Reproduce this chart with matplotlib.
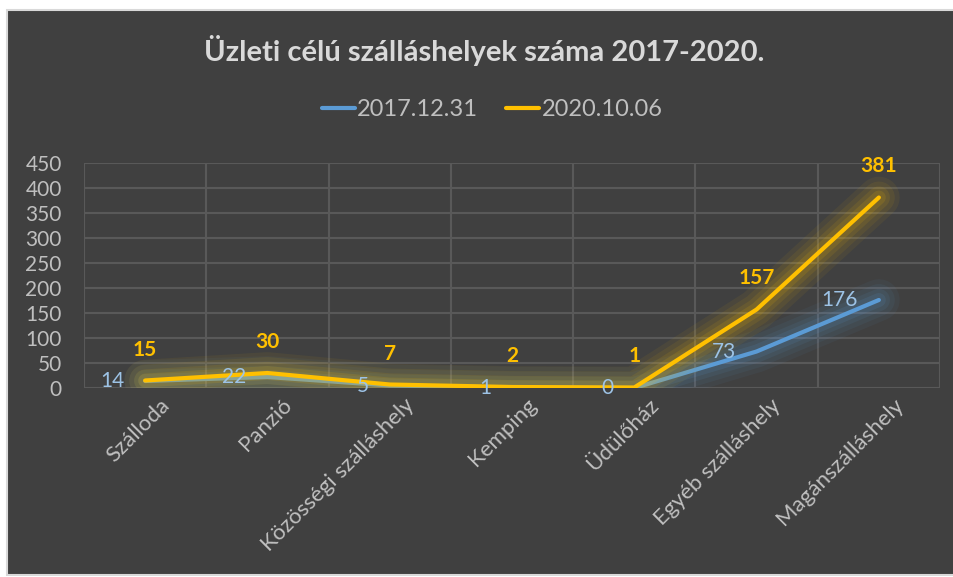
import matplotlib.pyplot as plt
from matplotlib import patheffects as pe
from matplotlib.lines import Line2D
from matplotlib.patches import Rectangle
from matplotlib.transforms import ScaledTranslation

categories = ["Szálloda", "Panzió", "Közösségi szálláshely", "Kemping",
              "Üdülőház", "Egyéb szálláshely", "Magánszálláshely"]
values_2017 = [14, 22, 5, 1, 0, 73, 176]
values_2020 = [15, 30, 7, 2, 1, 157, 381]
series_names = ["2017.12.31", "2020.10.06"]
y_ticks = [0, 50, 100, 150, 200, 250, 300, 350, 400, 450]

BG = "#404040"
GRID = "#595959"
TEXT = "#BFBFBF"
BLUE = "#5B9BD5"
BLUE_LABEL = "#9DC3E6"
YELLOW = "#FFC000"

plt.rcParams["font.family"] = ["Lato", "DejaVu Sans"]


def glow(color):
    strokes = [pe.Stroke(linewidth=w, foreground=color, alpha=a)
               for w, a in [(30, 0.06), (23, 0.07), (16, 0.09), (10, 0.12)]]
    return strokes + [pe.Normal()]


fig = plt.figure(figsize=(9.54, 5.77), dpi=100, facecolor="white")
fig.patches.append(Rectangle((7 / 954, 2 / 577), 1.0, 1 - 12 / 577,
                             transform=fig.transFigure, facecolor=BG,
                             edgecolor="#D9D9D9", linewidth=1.5, zorder=-5))

ax = fig.add_axes([84 / 954, 1 - 388 / 577, (940 - 84) / 954, (388 - 163) / 577])
ax.patch.set_alpha(0)

x = list(range(len(categories)))
ax.plot(x, values_2017, color=BLUE, linewidth=3, solid_capstyle="round",
        solid_joinstyle="round", path_effects=glow(BLUE), zorder=3)
ax.plot(x, values_2020, color=YELLOW, linewidth=3, solid_capstyle="round",
        solid_joinstyle="round", path_effects=glow(YELLOW), zorder=4)

for xi, v in zip(x, values_2017):
    ax.annotate(str(v), (xi, v), xytext=(-15, 0), textcoords="offset points",
                ha="right", va="center", color=BLUE_LABEL, fontsize=15, zorder=5)
for xi, v in zip(x, values_2020):
    ax.annotate(str(v), (xi, v), xytext=(0, 18), textcoords="offset points",
                ha="center", va="baseline", color=YELLOW, fontsize=15,
                fontweight="bold", zorder=5)

ax.set_xlim(-0.5, len(categories) - 0.5)
ax.set_ylim(0, 450)
ax.set_yticks(y_ticks)
ax.set_xticks(x)
ax.set_xticks([i - 0.5 for i in range(len(categories) + 1)], minor=True)
ax.set_xticklabels(categories, rotation=45, ha="right", rotation_mode="anchor")
ax.tick_params(axis="both", which="both", length=0, colors=TEXT)
ax.tick_params(axis="y", pad=16, labelsize=15)
ax.tick_params(axis="x", pad=5, labelsize=16)
for lbl in ax.get_xticklabels():
    lbl.set_transform(lbl.get_transform() + ScaledTranslation(0.14, 0, fig.dpi_scale_trans))

ax.grid(axis="y", which="major", color=GRID, linewidth=1.5, zorder=1)
ax.grid(axis="x", which="minor", color=GRID, linewidth=1.5, zorder=1)
ax.set_axisbelow(True)
for spine in ax.spines.values():
    spine.set_visible(False)

fig.text(0.508, 1 - 50 / 577, "Üzleti célú szálláshelyek száma 2017-2020.",
         ha="center", va="center", color="#D9D9D9", fontsize=21, fontweight="bold")

handles = [Line2D([], [], color=BLUE, linewidth=3, solid_capstyle="round"),
           Line2D([], [], color=YELLOW, linewidth=3, solid_capstyle="round")]
fig.legend(handles, series_names, loc="center", bbox_to_anchor=(0.516, 1 - 110 / 577),
           ncol=2, frameon=False, fontsize=17, labelcolor=TEXT, handlelength=1.4,
           handletextpad=0.1, columnspacing=1.2)

fig.savefig("out.png", dpi=100, facecolor=fig.get_facecolor())
